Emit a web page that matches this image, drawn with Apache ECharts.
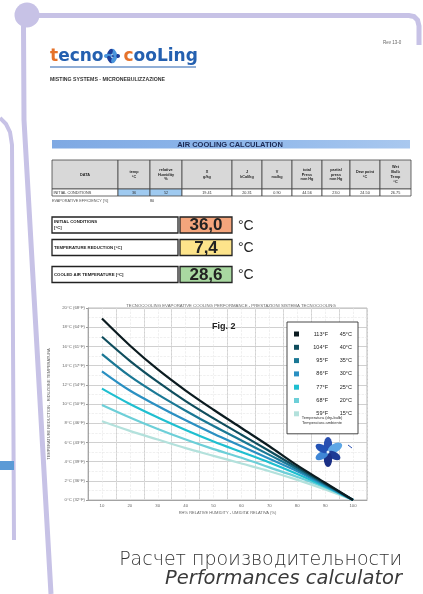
<!DOCTYPE html>
<html>
<head>
<meta charset="utf-8">
<script src="https://cdn.jsdelivr.net/npm/echarts@6/dist/echarts.min.js"></script>
<style>
html,body{margin:0;padding:0;background:#fff;}
#c{width:423px;height:594px;}
</style>
</head>
<body>
<div id="c"></div>
<script>
// ---- chart data ----
const rhCategories = ['10','20','30','40','50','60','70','80','90','100'];
const yTickLabels = ['0°C (32°F)','2°C (36°F)','4°C (39°F)','6°C (43°F)','8°C (46°F)','10°C (50°F)','12°C (54°F)','14°C (57°F)','16°C (61°F)','18°C (64°F)','20°C (68°F)'];
const tempsF = ['113°F','104°F','95°F','86°F','77°F','68°F','59°F'];
const tempsC = ['45°C','40°C','35°C','30°C','25°C','20°C','15°C'];
const lineColors = ['#0b1b20','#0f4d5d','#1a7895','#2a90c2','#1fbfd0','#6dcfd8','#b3e1dc'];
const red45 = [18.9, 16.1, 13.6, 11.4, 9.4, 7.5, 5.6, 3.6, 1.8, 0];
const red40 = [17.0, 14.5, 12.3, 10.3, 8.5, 6.8, 5.1, 3.4, 1.7, 0];
const red35 = [15.2, 12.9, 11.0, 9.3, 7.7, 6.2, 4.7, 3.2, 1.6, 0];
const red30 = [13.4, 11.4, 9.8, 8.3, 6.9, 5.6, 4.3, 3.0, 1.5, 0];
const red25 = [11.6, 10.0, 8.6, 7.3, 6.1, 5.0, 3.9, 2.7, 1.4, 0];
const red20 = [9.9, 8.6, 7.4, 6.3, 5.3, 4.4, 3.4, 2.4, 1.3, 0];
const red15 = [8.2, 7.2, 6.3, 5.4, 4.6, 3.8, 3.0, 2.1, 1.1, 0];
const seriesData = [red45, red40, red35, red30, red25, red20, red15];

// ---- document table data ----
const tableHeaders = ['DATA','temp\n°C','relative\nHumidity\n%','X\ng/kg','J\nkCal/kg','V\nmc/kg','total\nPress\nmm Hg','partial\npress\nmm Hg','Dew point\n°C','Wet\nBulb\nTemp\n°C'];
const tableRow = ['INITIAL CONDITIONS','36','52','19.41','20.31','0.90','44.56','23.0','24.50','26.75'];
const resultLabels = ['INITIAL CONDITIONS\n[°C]','TEMPERATURE REDUCTION [°C]','COOLED AIR TEMPERATURE [°C]'];
const resultValues = ['36,0','7,4','28,6'];

const chart = echarts.init(document.getElementById('c'), null, {renderer:'canvas'});

const LAV = '#c7c2e6';
const FONT = 'Liberation Sans, Arial, sans-serif';
const g = [];

// decorative frame lines
g.push({type:'circle', shape:{cx:27, cy:15, r:12.5}, style:{fill:LAV}, z:1});
g.push({type:'polyline', shape:{points:[[38,15.5],[409,15.5],[414,16.5],[417.5,20],[419,26],[419,45]]}, style:{stroke:LAV, lineWidth:5, fill:null}, z:1});
g.push({type:'polyline', shape:{points:[[23.5,26],[24,120],[51,594]]}, style:{stroke:LAV, lineWidth:5, fill:null}, z:1});
g.push({type:'polyline', shape:{points:[[0,118],[6,124],[10,132],[12,145],[14,540]]}, style:{stroke:LAV, lineWidth:4, fill:null}, z:1});
g.push({type:'rect', shape:{x:0, y:461, width:14, height:9}, style:{fill:'#5b9ad6'}, z:1});

// logo
g.push({type:'text', x:50, y:57, style:{
  text:'{o|t}{b|ecno}{sp| }{o|c}{b|ooLing}', verticalAlign:'middle',
  rich:{o:{fill:'#e5722a', fontSize:17, fontFamily:'DejaVu Sans', fontWeight:'bold'},
        b:{fill:'#2460b0', fontSize:17, fontFamily:'DejaVu Sans', fontWeight:'bold'},
        sp:{width:20}}
}, z:3});
g.push({type:'line', shape:{x1:50, y1:67, x2:196, y2:67}, style:{stroke:'#2460b0', lineWidth:1.2}, z:3});
// small flower in logo
[[0,'#1d3e9a'],[60,'#4a95dc'],[120,'#1d3e9a'],[180,'#4a95dc'],[240,'#1d3e9a'],[300,'#4a95dc']].forEach(function(p){
  const a = p[0]*Math.PI/180;
  g.push({type:'circle', shape:{cx:0, cy:0, r:4}, scaleY:0.55, rotation:-a, x:112+Math.cos(a)*4, y:56-Math.sin(a)*4, style:{fill:p[1]}, z:3});
});
g.push({type:'text', x:50, y:80, style:{text:'MISTING SYSTEMS - MICRONEBULIZZAZIONE', fontSize:5.2, fontWeight:'bold', fill:'#333', fontFamily:FONT, verticalAlign:'middle'}});
g.push({type:'text', x:383, y:43, style:{text:'Rev 13-0', fontSize:4.5, fill:'#666', fontFamily:FONT, verticalAlign:'middle'}});

// title bar
g.push({type:'rect', shape:{x:52, y:140, width:358, height:8.5}, style:{fill:new echarts.graphic.LinearGradient(0,0,1,0,[{offset:0,color:'#7fa9e3'},{offset:0.5,color:'#8db6ea'},{offset:1,color:'#a9c8ef'}])}});
g.push({type:'text', x:230, y:144.5, style:{text:'AIR COOLING CALCULATION', fontSize:7.5, fontWeight:'bold', fill:'#1b2a55', fontFamily:FONT, align:'center', verticalAlign:'middle'}});

// table
const cols = [52,118,150,182,232,262,292,322,350,380,411];
for (let i=0;i<tableHeaders.length;i++){
  const x0 = cols[i], w = cols[i+1]-cols[i];
  g.push({type:'rect', shape:{x:x0, y:160, width:w, height:29}, style:{fill:'#d8d8d8', stroke:'#444', lineWidth:0.8}});
  g.push({type:'text', x:x0+w/2, y:174.5, style:{text:tableHeaders[i], fontSize:3.8, fontWeight:'bold', lineHeight:4.8, fill:'#222', fontFamily:FONT, align:'center', verticalAlign:'middle'}});
  const blue = (i===1||i===2);
  g.push({type:'rect', shape:{x:x0, y:189, width:w, height:7}, style:{fill: blue ? '#9fcaf0' : '#fff', stroke:'#444', lineWidth:0.8}});
  g.push({type:'text', x: i===0 ? x0+1.5 : x0+w/2, y:192.5, style:{text:tableRow[i], fontSize:3.8, fill:'#333', fontFamily:FONT, align: i===0?'left':'center', verticalAlign:'middle'}});
}
g.push({type:'text', x:52, y:201, style:{text:'EVAPORATIVE EFFICIENCY [%]', fontSize:3.8, fill:'#555', fontFamily:FONT, verticalAlign:'middle'}});
g.push({type:'text', x:150, y:201, style:{text:'80', fontSize:3.8, fill:'#333', fontFamily:FONT, verticalAlign:'middle'}});

// result boxes
const rowY = [217, 239.5, 266.5];
const boxFill = ['#f4a57c','#fde48b','#a9d8a1'];
for (let i=0;i<3;i++){
  const y = rowY[i];
  g.push({type:'rect', shape:{x:52, y:y, width:126, height:16}, style:{fill:'#fff', stroke:'#222', lineWidth:1.3}});
  g.push({type:'text', x:54, y: i===0 ? y+2.5 : y+8, style:{text:resultLabels[i], fontSize:4.3, fontWeight:'bold', lineHeight:5.5, fill:'#222', fontFamily:FONT, verticalAlign: i===0?'top':'middle'}});
  g.push({type:'rect', shape:{x:180, y:y, width:52, height:16}, style:{fill:boxFill[i], stroke:'#222', lineWidth:1.3}});
  g.push({type:'text', x:206, y:y+8.5, style:{text:resultValues[i], fontSize:17, fontWeight:'bold', fill:'#222', fontFamily:FONT, align:'center', verticalAlign:'middle'}});
  g.push({type:'text', x:238, y:y+9, style:{text:'°C', fontSize:14, fill:'#222', fontFamily:FONT, verticalAlign:'middle'}});
}

// chart decorations
g.push({type:'text', x:212, y:327, style:{text:'Fig. 2', fontSize:9, fontWeight:'bold', fill:'#222', fontFamily:FONT, verticalAlign:'middle'}, z:10});
g.push({type:'text', x:322, y:417.5, style:{text:'Temperatura (dry-bulb)', fontSize:4, fill:'#333', fontFamily:FONT, align:'center', verticalAlign:'middle'}, z:10});
g.push({type:'text', x:322, y:422.5, style:{text:'Temperatura ambiente', fontSize:4, fill:'#333', fontFamily:FONT, align:'center', verticalAlign:'middle'}, z:10});
// flower in chart
const fc = [328, 452];
[[90,'#2a4fb0',7.5],[30,'#5ea7e6',8],[-30,'#1d3a95',7],[-90,'#1a2f86',7.5],[-150,'#3f86d6',7],[150,'#2352b5',7]].forEach(function(p){
  const a = p[0]*Math.PI/180, r = p[2];
  g.push({type:'circle', shape:{cx:0, cy:0, r:r}, scaleY:0.55, rotation:a, x:fc[0]+Math.cos(a)*r, y:fc[1]-Math.sin(a)*r, style:{fill:p[1]}, z:10});
});
g.push({type:'circle', shape:{cx:fc[0], cy:fc[1], r:1.5}, style:{fill:'#e8f2fb'}, z:11});
g.push({type:'line', shape:{x1:348, y1:445, x2:352, y2:448}, style:{stroke:'#2a4fb0', lineWidth:1}, z:10});

// bottom caption
g.push({type:'text', x:402, y:560, style:{text:'Расчет производительности', fontSize:19, fill:'#333', fontFamily:'DejaVu Sans, sans-serif', fontWeight:200, align:'right', verticalAlign:'middle'}});
g.push({type:'text', x:402, y:578.5, style:{text:'Performances calculator', fontSize:19.5, fontStyle:'italic', fill:'#3a3a3a', fontFamily:'DejaVu Sans, sans-serif', fontWeight:200, align:'right', verticalAlign:'middle'}});

const series = seriesData.map(function(d,i){
  return {name:tempsC[i], type:'line', data:d, smooth:0.35, symbol:'none', xAxisIndex:0,
          lineStyle:{color:lineColors[i], width:2.2}, itemStyle:{color:lineColors[i]}, z:5-i*0.1};
});

chart.setOption({
  animation:false,
  backgroundColor:'#fff',
  textStyle:{fontFamily:FONT},
  title:{text:'TECNOCOOLING EVAPORATIVE COOLING PERFORMANCE - PRESTAZIONI SISTEMA TECNOCOOLING', left:226, top:299, textAlign:'center',
         textStyle:{fontSize:4.3, fontWeight:'normal', color:'#666'}},
  grid:{left:88, right:56, top:308, bottom:94, show:true, borderColor:'#aaa', borderWidth:0.8},
  legend:{orient:'vertical', left:287, top:322, itemWidth:5, itemHeight:5, itemGap:7.3, icon:'rect',
          padding:[9,6,17,7], borderColor:'#333', borderWidth:0.9, backgroundColor:'#fff',
          data:tempsC,
          formatter:function(n){ const i = tempsC.indexOf(n); return '{f|'+tempsF[i]+'}{c|'+tempsC[i]+'}'; },
          textStyle:{fontSize:5.5, lineHeight:5, color:'#222', rich:{f:{width:24, align:'right', fontSize:5.5}, c:{width:24, align:'right', fontSize:5.5}}}},
  xAxis:[{type:'category', data:rhCategories, boundaryGap:true,
          name:"RH% RELATIVE HUMIDITY - UMIDITA' RELATIVA (%)", nameLocation:'middle', nameGap:11,
          nameTextStyle:{fontSize:4, color:'#666'},
          axisLine:{lineStyle:{color:'#999', width:0.8}}, axisTick:{show:false},
          axisLabel:{fontSize:4.3, color:'#666', margin:4},
          splitLine:{show:true, lineStyle:{color:'#c4c4c4', width:0.8}}},
         {type:'value', min:5, max:105, interval:5, show:true, position:'top',
          axisLine:{show:false}, axisTick:{show:false}, axisLabel:{show:false},
          splitLine:{show:true, lineStyle:{color:'#e6e6e6', width:0.6, type:'dashed'}}}],
  yAxis:{type:'value', min:0, max:20, interval:2,
         name:'TEMPERATURE REDUCTION - RIDUZIONE TEMPERATURA', nameLocation:'middle', nameGap:35, nameRotate:90,
         nameTextStyle:{fontSize:4, color:'#666'},
         axisLine:{show:true, lineStyle:{color:'#999', width:0.8}}, axisTick:{show:true, length:2, lineStyle:{color:'#999'}},
         axisLabel:{fontSize:4.3, color:'#666', margin:3, formatter:function(v){ return yTickLabels[Math.round(v/2)]; }},
         splitLine:{lineStyle:{color:'#c4c4c4', width:0.8}},
         minorTick:{show:false, splitNumber:2},
         minorSplitLine:{show:true, lineStyle:{color:'#e6e6e6', width:0.6, type:'dashed'}}},
  series:series,
  graphic:g
});
</script>
</body>
</html>
